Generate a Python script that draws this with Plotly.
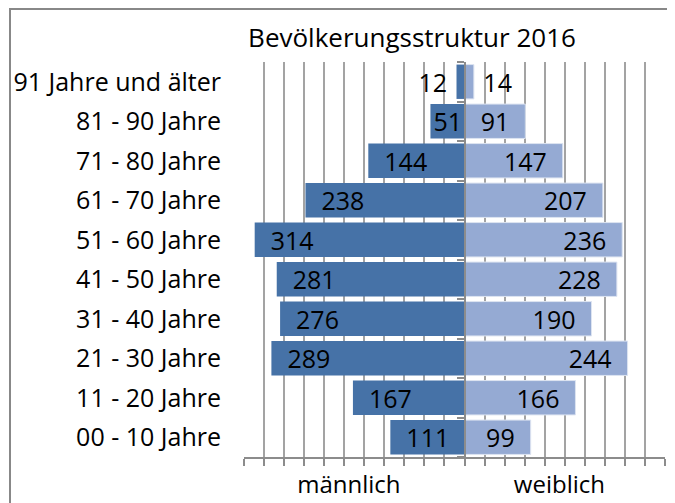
import plotly.graph_objects as go

categories = ["00 - 10 Jahre", "11 - 20 Jahre", "21 - 30 Jahre", "31 - 40 Jahre",
              "41 - 50 Jahre", "51 - 60 Jahre", "61 - 70 Jahre", "71 - 80 Jahre",
              "81 - 90 Jahre", "91 Jahre und älter"]
male = [111, 167, 289, 276, 281, 314, 238, 144, 51, 12]
female = [99, 166, 244, 190, 228, 236, 207, 147, 91, 14]
side_labels = ["männlich", "weiblich"]
title_text = "Bevölkerungsstruktur 2016"

FONT = "Open Sans"
MALE_COLOR = "#4672a7"
FEMALE_COLOR = "#95aad3"
GRID = "#a3a3a3"
AXIS = "#8c8c8c"
NB = "\u00a0"

# page body adds an 8px offset; figure is sized so it ends at the window edge
W, H = 667, 495
L, T = 236, 54
PW, PH = 421, 395


def position(v):
    return "outside" if v < 30 else "inside"


def male_text(v):
    if v < 30:
        return f"{v}{NB}"
    if v < 80:
        return f"{v}"
    return f"{NB}{NB}{v}"


def female_text(v):
    if v < 30:
        return f"{NB}{v}"
    if v < 80:
        return f"{v}"
    return f"{v}{NB}{NB}"


fig = go.Figure()
fig.add_trace(go.Bar(
    y=categories, x=[-v for v in male], orientation="h",
    marker=dict(color=MALE_COLOR, line=dict(width=0)),
    text=[male_text(v) for v in male],
    textposition=[position(v) for v in male],
    insidetextanchor="end", textangle=0,
    textfont=dict(family=FONT, size=25, color="#000000"),
    cliponaxis=False, hoverinfo="skip", showlegend=False,
))
fig.add_trace(go.Bar(
    y=categories, x=female, orientation="h", yaxis="y2",
    marker=dict(color=FEMALE_COLOR, line=dict(width=1, color="#dde4f1")),
    text=[female_text(v) for v in female],
    textposition=[position(v) for v in female],
    insidetextanchor="end", textangle=0,
    textfont=dict(family=FONT, size=25, color="#000000"),
    cliponaxis=False, hoverinfo="skip", showlegend=False,
))

fig.update_layout(
    width=W, height=H,
    margin=dict(l=L, r=W - L - PW, t=T, b=H - T - PH, autoexpand=False),
    paper_bgcolor="white", plot_bgcolor="white",
    font=dict(family=FONT, size=25, color="#000000"),
    barmode="overlay", bargap=0.13,
    uniformtext=dict(minsize=23, mode="show"),
    title=dict(text=title_text, x=0.3991, xref="paper", xanchor="center",
               y=1 - 30 / H, yref="container", yanchor="middle",
               font=dict(family=FONT, size=26, color="#000000")),
    xaxis=dict(
        range=[-330, 300],
        tickvals=[-173, 142], ticktext=side_labels,
        ticks="", showgrid=False, zeroline=False,
        showline=True, linecolor=AXIS, linewidth=2,
        ticklabelstandoff=5,
        tickfont=dict(family=FONT, size=24, color="#000000"),
        minor=dict(tick0=0, dtick=30, ticks="outside", ticklen=7,
                   tickcolor=AXIS, tickwidth=2,
                   showgrid=True, gridcolor=GRID, gridwidth=2),
        fixedrange=True,
    ),
    yaxis=dict(
        type="category", categoryarray=categories, categoryorder="array",
        showline=False, ticks="", showgrid=False, zeroline=False,
        ticklabelstandoff=22,
        tickfont=dict(family=FONT, size=25, color="#000000"),
    ),
    yaxis2=dict(
        type="category", categoryarray=categories, categoryorder="array",
        overlaying="y", anchor="free", position=330 / 630, side="left",
        showline=True, linecolor=AXIS, linewidth=2,
        ticks="outside", tickson="boundaries", ticklen=7,
        tickcolor=AXIS, tickwidth=2,
        showticklabels=False, showgrid=False, zeroline=False,
    ),
    shapes=[dict(type="rect", xref="paper", yref="paper",
                 x0=(2 - L) / PW, x1=1.3, y0=-0.4, y1=(T + PH - 1) / PH,
                 line=dict(color="#888888", width=2), fillcolor="rgba(0,0,0,0)",
                 layer="below")],
)

fig.write_html("out.html")
